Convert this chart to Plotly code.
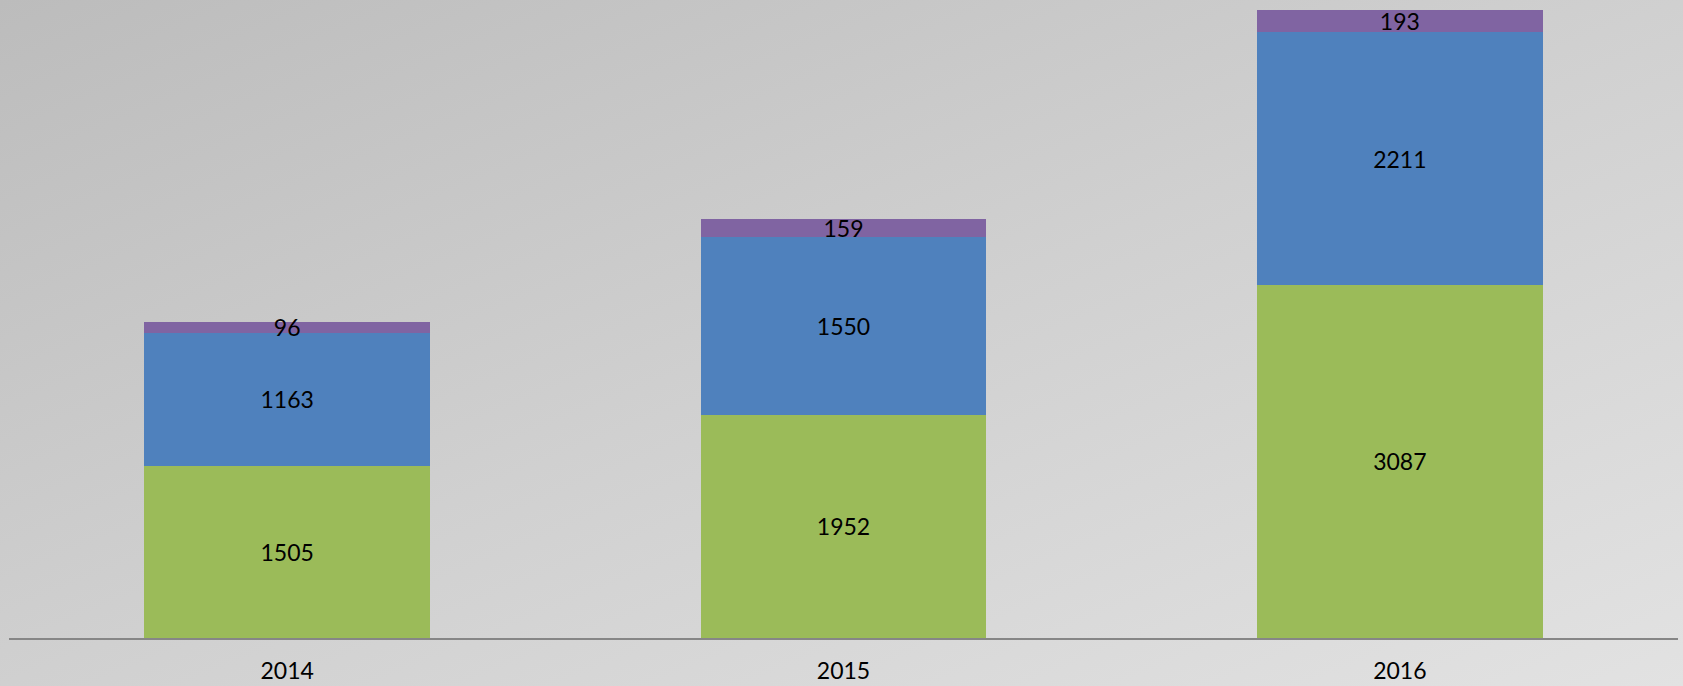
import base64
import plotly.graph_objects as go

years = ["2014", "2015", "2016"]
green_vals = [1505, 1952, 3087]
blue_vals = [1163, 1550, 2211]
purple_vals = [96, 159, 193]

W, H = 1683, 686
ML, MR, MT, MB = 9, 5, 0, 48
pw, ph = W - ML - MR, H - MT - MB

totals = [g + b + p for g, b, p in zip(green_vals, blue_vals, purple_vals)]
ymax = max(totals) * ph / (638 - 10)

svg = (
    '<svg xmlns="http://www.w3.org/2000/svg" width="200" height="100" '
    'preserveAspectRatio="none" viewBox="0 0 200 100">'
    '<defs><linearGradient id="g" x1="0" y1="0" x2="1" y2="1">'
    '<stop offset="0" stop-color="#bcbcbc"/>'
    '<stop offset="0.5" stop-color="#d0d0d0"/>'
    '<stop offset="1" stop-color="#e2e2e2"/>'
    '</linearGradient></defs>'
    '<rect width="200" height="100" fill="url(#g)"/></svg>'
)
src = "data:image/svg+xml;base64," + base64.b64encode(svg.encode()).decode()

font = dict(family="Lato, Open Sans, sans-serif", size=23, color="#000000")

fig = go.Figure()
for vals, color in [(green_vals, "#9BBB59"), (blue_vals, "#4F81BD"), (purple_vals, "#8064A2")]:
    fig.add_trace(go.Bar(
        x=years, y=vals, marker=dict(color=color, line=dict(width=0)),
        text=[str(v) for v in vals], textposition="inside", textangle=0,
        insidetextanchor="middle", textfont=font, constraintext="none",
        cliponaxis=False,
    ))

fig.update_layout(
    width=W, height=H, barmode="stack", bargap=0.487, showlegend=False,
    margin=dict(l=ML, r=MR, t=MT, b=MB, autoexpand=False),
    paper_bgcolor="#d0d0d0", plot_bgcolor="rgba(0,0,0,0)",
    uniformtext=dict(minsize=23, mode="show"),
    font=font,
    images=[dict(
        source=src, xref="paper", yref="paper",
        x=-ML / pw, y=1 + MT / ph, sizex=W / pw, sizey=H / ph,
        sizing="stretch", layer="below", xanchor="left", yanchor="top",
    )],
)
fig.update_xaxes(showgrid=False, showline=True, linecolor="#868686", linewidth=2,
                 ticks="", ticklabelstandoff=11, tickfont=font, automargin=False)
fig.update_yaxes(visible=False, range=[0, ymax], showgrid=False, zeroline=False,
                 automargin=False)

fig.write_html("out.html", config={"displayModeBar": False},
               post_script="document.body.style.margin='0';document.body.style.overflow='hidden';")
